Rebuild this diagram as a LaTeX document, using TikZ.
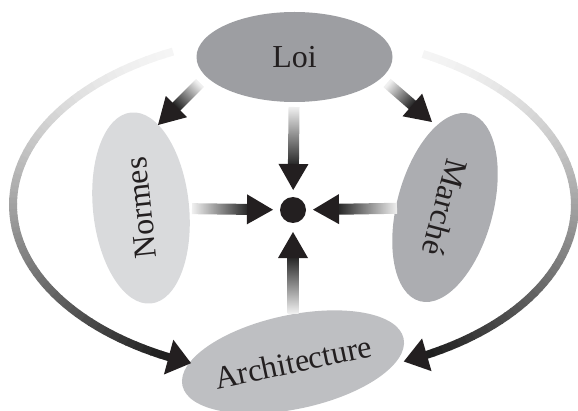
\documentclass[tikz,border=0pt]{standalone}
\usepackage{fontspec}
\setmainfont{Liberation Serif}
\usetikzlibrary{calc,shapes.geometric}

\definecolor{loigray}{RGB}{157,158,162}
\definecolor{normesgray}{RGB}{217,218,220}
\definecolor{marchegray}{RGB}{172,173,177}
\definecolor{archigray}{RGB}{190,191,194}
\definecolor{headblack}{RGB}{35,31,32}

\tikzset {
  pole/.style={ellipse, inner sep=0pt, text=headblack, font=\fontsize{32}{38}\selectfont},
  orbit/.style={line width=8pt},
}

% head of a connector: base, tip, half width
\newcommand{\arrowtip}[3]{%
  \fill[headblack] (#2) -- ($(#1)!#3!90:(#2)$) -- ($(#1)!#3!-90:(#2)$) -- cycle;}

% straight connector fading in: start, tip, shading angle
\newcommand{\fadearrow}[3]{%
  \coordinate (base) at ($(#2)!26pt!(#1)$);
  \coordinate (shaftend) at ($(#2)!25pt!(#1)$);
  \shade[top color=black!6, bottom color=black!85, shading angle=#3]
    ($(#1)!5.5pt!90:(#2)$) -- ($(shaftend)!5.5pt!90:(#2)$)
    -- ($(shaftend)!5.5pt!-90:(#2)$) -- ($(#1)!5.5pt!-90:(#2)$) -- cycle;
  \arrowtip{base}{#2}{15pt}}

\begin{document}
\begin{tikzpicture}[x=1pt,y=1pt]
\useasboundingbox (0,0) rectangle (578,410);

% Place the four poles and the hub
\node[pole, fill=loigray, minimum width=196pt, minimum height=90pt] (loi) at (294.5,353) {Loi};
\node[pole, fill=normesgray, minimum width=192pt, minimum height=96pt, rotate=96] (normes) at (141,202) {Normes};
\node[pole, fill=marchegray, minimum width=194pt, minimum height=96pt, rotate=-105] (marche) at (445,202.5) {Marché};
\node[pole, fill=archigray, minimum width=186pt, minimum height=94pt, rotate=12] (archi) at (293,48) {Architecture};
\node[circle, fill=headblack, minimum size=26pt, inner sep=0pt] (hub) at (293,200) {};

% Big loops from Loi round to Architecture
\coordinate (ring) at (294,205);
\foreach \i in {0,...,63} {
  \pgfmathsetmacro{\a}{115.5+2*\i}
  \pgfmathsetmacro{\b}{\a+2.2}
  \pgfmathsetmacro{\g}{4+84*((\i/63)^1.4)}
  \draw[orbit, black!\g] ($(ring)+(\a:281pt and 170pt)$) -- ($(ring)+(\b:281pt and 170pt)$);
}
\foreach \i in {0,...,63} {
  \pgfmathsetmacro{\a}{62.7-1.95*\i}
  \pgfmathsetmacro{\b}{\a-2.15}
  \pgfmathsetmacro{\g}{4+84*((\i/63)^1.4)}
  \draw[orbit, black!\g] ($(ring)+(\a:281pt and 170pt)$) -- ($(ring)+(\b:281pt and 170pt)$);
}
\coordinate (lbase) at ($(ring)+(243.5:281pt and 170pt)$);
\coordinate (ltip) at ($(ring)+(248.5:281pt and 170pt)$);
\coordinate (rbase) at ($(ring)+(-61.8:281pt and 170pt)$);
\coordinate (rtip) at ($(ring)+(-67:281pt and 170pt)$);
\arrowtip{lbase}{ltip}{18pt}
\arrowtip{rbase}{rtip}{17pt}

% Loi towards Normes and Marché
\coordinate (loi-n) at ($(loi)+(-94.5,-26)$);
\coordinate (normes-in) at ($(normes)+(17,83)$);
\coordinate (loi-m) at ($(loi)+(92.5,-26)$);
\coordinate (marche-in) at ($(marche)+(-13,85.5)$);
\fadearrow{loi-n}{normes-in}{315}
\fadearrow{loi-m}{marche-in}{49}

% Everything points to the hub
\coordinate (loi-out) at ($(loi)!50pt!(hub)$);
\coordinate (normes-out) at ($(normes)!51pt!(hub)$);
\coordinate (marche-out) at ($(marche)!48pt!(hub)$);
\coordinate (archi-out) at ($(archi)!49pt!(hub)$);
\coordinate (hub-n) at ($(hub)!20pt!(loi)$);
\coordinate (hub-w) at ($(hub)!20pt!(normes)$);
\coordinate (hub-e) at ($(hub)!20pt!(marche)$);
\coordinate (hub-s) at ($(hub)!22pt!(archi)$);
\fadearrow{loi-out}{hub-n}{0}
\fadearrow{normes-out}{hub-w}{90}
\fadearrow{marche-out}{hub-e}{270}
\fadearrow{archi-out}{hub-s}{180}

\end{tikzpicture}
\end{document}
